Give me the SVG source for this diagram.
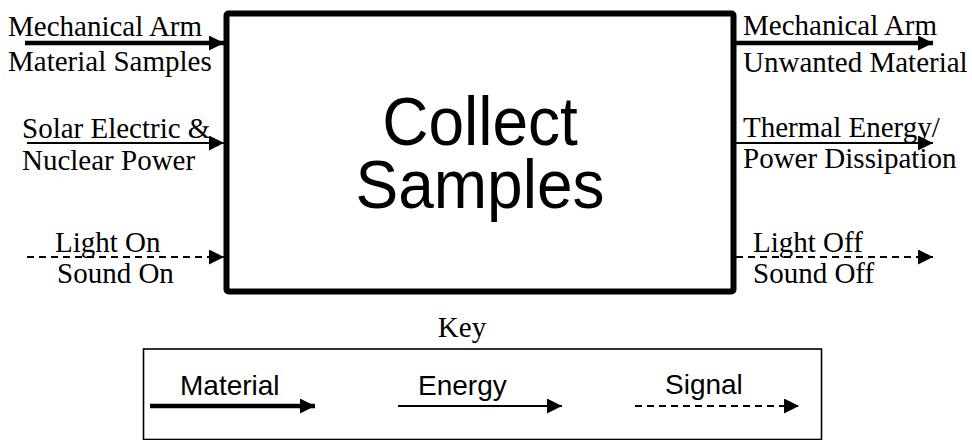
<svg xmlns="http://www.w3.org/2000/svg" width="972" height="440" viewBox="0 0 972 440">
<style>
.t{font-family:"Liberation Serif","Times New Roman",serif;font-size:29px;fill:#000}
.s{font-family:"Liberation Sans",Arial,sans-serif;fill:#000}
.mat{stroke:#000;stroke-width:4.5;fill:none}
.en{stroke:#000;stroke-width:2;fill:none}
.sig{stroke:#000;stroke-width:1.8;fill:none;stroke-dasharray:7 5}
</style>
<defs>
<marker id="ah" markerUnits="userSpaceOnUse" markerWidth="16" markerHeight="16" refX="15" refY="7.5" orient="auto" viewBox="0 0 16 16">
<path d="M0,0 L15,7.5 L0,15 z" fill="#000"/>
</marker>
</defs>
<rect width="972" height="440" fill="#fff"/>
<g id="main">
<rect x="226.5" y="13.5" width="507" height="278" rx="2" fill="#fff" stroke="#000" stroke-width="6"/>
<text class="s" font-size="64" text-anchor="middle" transform="translate(0,-12) scale(1,1.08)"><tspan x="480" y="145">Collect</tspan><tspan x="480" y="204">Samples</tspan></text>
</g>
<g id="connectors">
<line class="mat" x1="25" y1="43" x2="224" y2="43" marker-end="url(#ah)"/>
<line class="en" x1="27" y1="143" x2="224" y2="143" marker-end="url(#ah)"/>
<line class="sig" x1="27" y1="257" x2="224" y2="257" marker-end="url(#ah)"/>
<line class="mat" x1="736" y1="43" x2="933" y2="43" marker-end="url(#ah)"/>
<line class="en" x1="736" y1="143" x2="933" y2="143" marker-end="url(#ah)"/>
<line class="sig" x1="736" y1="257" x2="933" y2="257" marker-end="url(#ah)"/>
</g>
<g id="inputs">
<text class="t" x="8" y="36">Mechanical Arm</text>
<text class="t" x="8" y="71">Material Samples</text>
<text class="t" x="22" y="138">Solar Electric &amp;</text>
<text class="t" x="22" y="170">Nuclear Power</text>
<text class="t" x="55" y="252">Light On</text>
<text class="t" x="57" y="283">Sound On</text>
</g>
<g id="outputs">
<text class="t" x="743" y="35">Mechanical Arm</text>
<text class="t" x="743" y="72">Unwanted Material</text>
<text class="t" x="743" y="137">Thermal Energy/</text>
<text class="t" x="743" y="168">Power Dissipation</text>
<text class="t" x="753" y="252">Light Off</text>
<text class="t" x="753" y="283">Sound Off</text>
</g>
<g id="key">
<text class="t" x="462" y="337" text-anchor="middle">Key</text>
<rect x="143.5" y="349" width="678" height="90.5" fill="none" stroke="#000" stroke-width="1.6"/>
<text class="s" x="180" y="395" font-size="28">Material</text>
<line class="mat" x1="150" y1="406" x2="315" y2="406" marker-end="url(#ah)"/>
<text class="s" x="418" y="395" font-size="28">Energy</text>
<line class="en" x1="398" y1="406" x2="562" y2="406" marker-end="url(#ah)"/>
<text class="s" x="665" y="394" font-size="28">Signal</text>
<line class="sig" x1="635" y1="406" x2="799" y2="406" marker-end="url(#ah)"/>
</g>
</svg>
